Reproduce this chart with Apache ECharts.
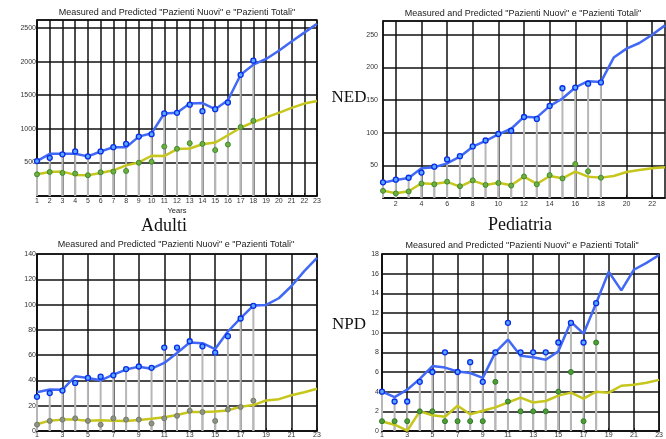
<!DOCTYPE html>
<html>
<head>
<meta charset="utf-8">
<script src="https://cdn.jsdelivr.net/npm/echarts@6/dist/echarts.min.js"></script>
<style>
html,body{margin:0;padding:0;background:#fff;}
#chart{width:666px;height:439px;}
</style>
</head>
<body>
<div id="chart"></div>
<script>
// Years on the horizontal axis (measured years are the first 18)
const years = [1, 2, 3, 4, 5, 6, 7, 8, 9, 10, 11, 12, 13, 14, 15, 16, 17, 18, 19, 20, 21, 22, 23];
const measuredYears = [1, 2, 3, 4, 5, 6, 7, 8, 9, 10, 11, 12, 13, 14, 15, 16, 17, 18];

// Tick positions of each panel's horizontal axis
const xTicksEvery = [1, 2, 3, 4, 5, 6, 7, 8, 9, 10, 11, 12, 13, 14, 15, 16, 17, 18, 19, 20, 21, 22, 23];
const xTicksEven = [2, 4, 6, 8, 10, 12, 14, 16, 18, 20, 22];
const xTicksOdd = [1, 3, 5, 7, 9, 11, 13, 15, 17, 19, 21, 23];

// NED - Adulti
const nedAdultiPredTot = [520, 628, 628, 630, 590, 663, 727, 727, 884, 934, 1229, 1238, 1376, 1383, 1292, 1425, 1804, 1956, 2040, 2162, 2300, 2432, 2565];
const nedAdultiMeasTot = [520, 569, 620, 663, 589, 663, 727, 776, 884, 921, 1229, 1238, 1360, 1263, 1292, 1392, 1804, 2015];
const nedAdultiPredNew = [323, 358, 363, 314, 309, 343, 382, 456, 500, 599, 594, 698, 707, 771, 795, 904, 1016, 1100, 1170, 1238, 1311, 1376, 1415];
const nedAdultiMeasNew = [323, 358, 343, 334, 309, 353, 363, 373, 495, 510, 736, 703, 786, 776, 683, 766, 1026, 1120];

// NED - Pediatria
const nedPedPredTot = [23.5, 27.6, 30.7, 45.5, 47, 53, 63.2, 78.5, 87.6, 97.4, 106, 124.3, 123.4, 140.6, 152.4, 169.2, 178.8, 177.7, 215, 228.7, 237.3, 250, 264.3];
const nedPedMeasTot = [24, 28, 31, 39, 48, 59, 64, 79, 88, 98, 103, 124, 121, 141, 168, 169, 175, 177];
const nedPedPredNew = [11.3, 7.3, 10.4, 22.6, 21.5, 24.6, 17.4, 26.6, 20, 23.5, 19.5, 32.7, 21.5, 33.7, 30.2, 40.3, 32.7, 31.2, 33.7, 39.9, 42.9, 45.5, 47];
const nedPedMeasNew = [11, 7, 10, 22, 21, 25, 18, 27, 20, 23, 19, 33, 21, 35, 30, 52, 41, 31];

// NPD - Adulti
const npdAdultiPredTot = [30.7, 32.8, 32.6, 43.3, 42, 40.1, 44.6, 48.6, 50.9, 49.3, 53.8, 61.7, 70, 69.5, 64.8, 78.7, 89.2, 99.2, 99.7, 105, 114.7, 126.5, 137];
const npdAdultiMeasTot = [27, 30, 32, 38, 42, 43, 44, 49, 51, 50, 66, 66, 71, 67, 62, 75, 89, 99];
const npdAdultiPredNew = [5.3, 8.2, 9, 9, 8.2, 8.5, 8.2, 7.9, 8.7, 9.7, 10.8, 12.6, 15, 15, 15.5, 16.3, 19.2, 20.5, 24.2, 25.2, 28.3, 30.7, 33.4];
const npdAdultiMeasNew = [5, 8, 9, 10, 8, 5, 10, 9, 9, 6, 10, 12, 16, 15, 8, 17, 19, 24];

// NPD - Pediatria
const npdPedPredTot = [4.0, 3.45, 4.2, 5.3, 6.6, 6.45, 6.05, 5.9, 5.4, 8.0, 9.3, 7.65, 7.5, 7.25, 8.1, 11.1, 9.9, 13.0, 16.2, 14.3, 16.4, 17.1, 17.9];
const npdPedMeasTot = [4, 3, 3, 5, 6, 8, 6, 7, 5, 8, 11, 8, 8, 8, 9, 11, 9, 13];
const npdPedPredNew = [0.97, 0.64, 0.03, 2.0, 1.6, 1.45, 2.57, 1.7, 2.06, 2.4, 2.9, 3.4, 2.9, 3.05, 3.6, 3.9, 3.3, 4.0, 3.9, 4.6, 4.7, 4.9, 5.2];
const npdPedMeasNew = [1, 1, 1, 2, 2, 1, 1, 1, 1, 5, 3, 2, 2, 2, 4, 6, 1, 9];

const titleText = 'Measured and Predicted "Pazienti Nuovi" e "Pazienti Totali"';
const titleTextAlt = 'Measured and Predicted "Pazienti Nuovi" e Pazienti Totali"';

const panels = [
  { grid: { left: 37, top: 20, width: 280, height: 176 }, yMax: 2620, yStep: 500, showZero: false, xTicks: xTicksEvery,
    labelGapY: 1, labelGapX: 2,
    predTot: nedAdultiPredTot, measTot: nedAdultiMeasTot, predNew: nedAdultiPredNew, measNew: nedAdultiMeasNew, newColor: '#6fae3c', newBorder: '#3f8a34' },
  { grid: { left: 383, top: 21, width: 282, height: 177 }, yMax: 271, yStep: 50, showZero: false, xTicks: xTicksEven,
    labelGapY: 5, labelGapX: 3,
    predTot: nedPedPredTot, measTot: nedPedMeasTot, predNew: nedPedPredNew, measNew: nedPedMeasNew, newColor: '#6fae3c', newBorder: '#3f8a34' },
  { grid: { left: 37, top: 254, width: 280, height: 178 }, yMax: 140, yStep: 20, showZero: true, xTicks: xTicksOdd,
    labelGapY: 1, labelGapX: 1,
    predTot: npdAdultiPredTot, measTot: npdAdultiMeasTot, predNew: npdAdultiPredNew, measNew: npdAdultiMeasNew, newColor: '#8e9484', newBorder: '#737a6c' },
  { grid: { left: 382, top: 254, width: 281, height: 177 }, yMax: 18, yStep: 2, showZero: true, xTicks: xTicksOdd,
    labelGapY: 3, labelGapX: 1,
    predTot: npdPedPredTot, measTot: npdPedMeasTot, predNew: npdPedPredNew, measNew: npdPedMeasNew, newColor: '#4f9e34', newBorder: '#2f7a2a' }
];

const pairs = (xs, ys) => ys.map((v, i) => [xs[i], v]);
const plain = v => String(v);

const grids = [], xAxes = [], yAxes = [], series = [];
panels.forEach((p, i) => {
  grids.push(Object.assign({ show: true, borderColor: '#111', borderWidth: 1.5, backgroundColor: '#fff', containLabel: false }, p.grid));
  xAxes.push({
    type: 'value', gridIndex: i, min: 1, max: 23,
    axisLine: { show: true, lineStyle: { color: '#111', width: 1.5 } },
    axisTick: { show: true, inside: true, length: 3, lineStyle: { color: '#111' }, customValues: p.xTicks },
    axisLabel: { show: true, customValues: p.xTicks, formatter: plain, fontSize: 7, color: '#333', margin: p.labelGapX, fontFamily: 'Liberation Sans' },
    splitLine: { show: true, lineStyle: { color: '#111', width: 1.5 } }
  });
  yAxes.push({
    type: 'value', gridIndex: i, min: 0, max: p.yMax, interval: p.yStep,
    axisLine: { show: true, lineStyle: { color: '#111', width: 1.5 } },
    axisTick: { show: false },
    axisLabel: { formatter: plain, fontSize: 7, color: '#333', margin: p.labelGapY, showMinLabel: p.showZero, showMaxLabel: p.yMax % p.yStep === 0, fontFamily: 'Liberation Sans' },
    splitLine: { show: true, lineStyle: { color: '#111', width: 1.5 } }
  });

  // gray stems from each measured value down to the baseline
  const stemItem = function (params, api) {
    const top = api.coord([api.value(0), api.value(1)]);
    const base = api.coord([api.value(0), 0]);
    return { type: 'line', shape: { x1: top[0], y1: top[1], x2: base[0], y2: base[1] },
             style: { stroke: '#b7b7b7', lineWidth: 2 } };
  };
  series.push({ type: 'custom', xAxisIndex: i, yAxisIndex: i, z: 2, renderItem: stemItem, data: pairs(measuredYears, p.measNew), silent: true });
  series.push({ type: 'custom', xAxisIndex: i, yAxisIndex: i, z: 2, renderItem: stemItem, data: pairs(measuredYears, p.measTot), silent: true });

  series.push({ type: 'line', xAxisIndex: i, yAxisIndex: i, z: 3, showSymbol: false, data: pairs(years, p.predNew),
                lineStyle: { color: '#c6c61c', width: 2.5 }, silent: true });
  series.push({ type: 'line', xAxisIndex: i, yAxisIndex: i, z: 3, showSymbol: false, data: pairs(years, p.predTot),
                lineStyle: { color: '#4169f5', width: 2.5 }, silent: true });

  series.push({ type: 'scatter', xAxisIndex: i, yAxisIndex: i, z: 4, symbol: 'circle', symbolSize: 5, data: pairs(measuredYears, p.measNew),
                itemStyle: { color: p.newColor, borderColor: p.newBorder, borderWidth: 1, opacity: 1 }, silent: true });
  series.push({ type: 'scatter', xAxisIndex: i, yAxisIndex: i, z: 4, symbol: 'circle', symbolSize: 5, data: pairs(measuredYears, p.measTot),
                itemStyle: { color: '#58a8ff', borderColor: '#0a2be8', borderWidth: 1.3, opacity: 1 }, silent: true });
});

const txt = (x, y, text, size, family, color) => ({
  type: 'text', x: x, y: y, silent: true,
  style: { text: text, fontSize: size, fontFamily: family, fill: color || '#1a1a1a', textAlign: 'center', textVerticalAlign: 'middle' }
});

const chart = echarts.init(document.getElementById('chart'), null, { renderer: 'canvas' });
chart.setOption({
  animation: false,
  backgroundColor: '#fff',
  grid: grids,
  xAxis: xAxes,
  yAxis: yAxes,
  series: series,
  graphic: [
    txt(177, 12.5, titleText, 9, 'Liberation Sans'),
    txt(523, 14, titleText, 9, 'Liberation Sans'),
    txt(176, 245, titleText, 9, 'Liberation Sans'),
    txt(522, 246, titleTextAlt, 9, 'Liberation Sans'),
    txt(177, 211, 'Years', 7.5, 'Liberation Sans', '#222'),
    txt(349, 98, 'NED', 17, 'Liberation Serif', '#111'),
    txt(349, 325, 'NPD', 17, 'Liberation Serif', '#111'),
    txt(164, 226, 'Adulti', 18, 'Liberation Serif', '#111'),
    txt(520, 225, 'Pediatria', 18, 'Liberation Serif', '#111')
  ]
});
</script>
</body>
</html>
